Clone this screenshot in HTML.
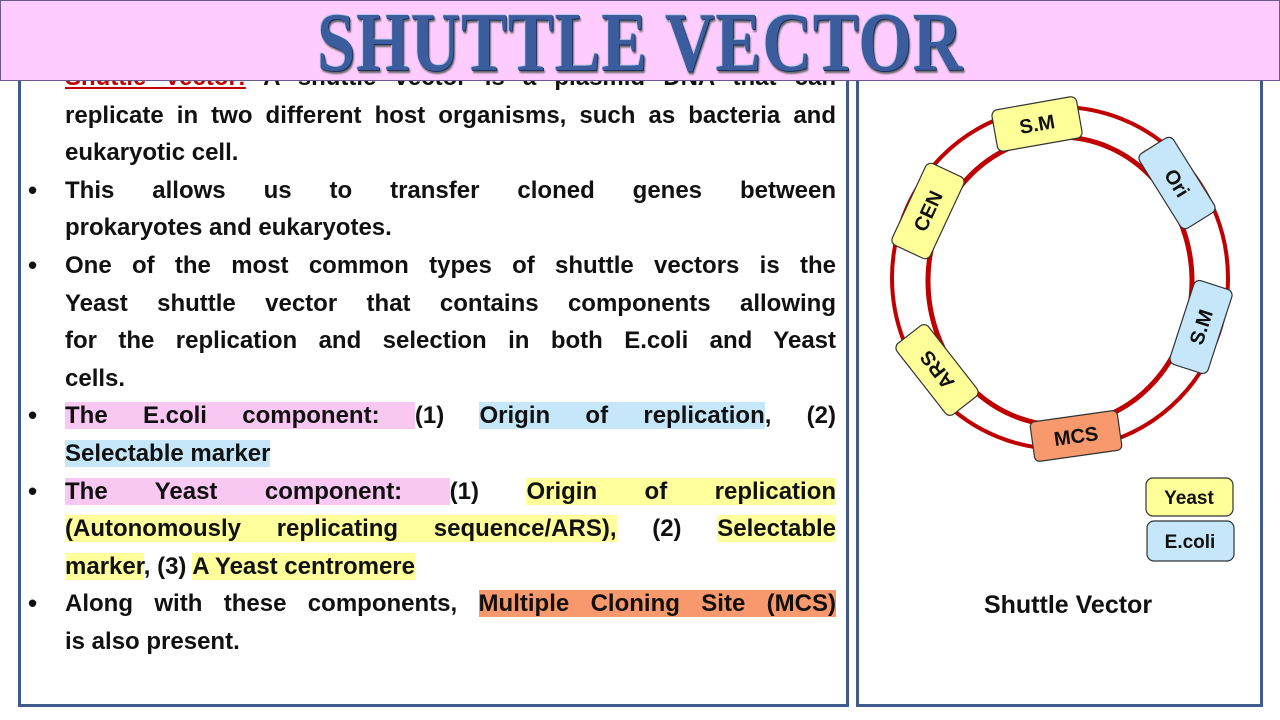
<!DOCTYPE html>
<html><head><meta charset="utf-8">
<style>
*{margin:0;padding:0;box-sizing:border-box}
body{width:1280px;height:720px;background:#fff;position:relative;overflow:hidden;font-family:"Liberation Sans",sans-serif}
.panel{position:absolute;border:3px solid #3f5b8e}
#title{position:absolute;left:0;top:0;width:1280px;height:81px;background:#ffccff;border:1px solid #6a5a8a;z-index:5;text-align:center}
#title span{display:inline-block;font-family:"Liberation Serif",serif;font-weight:bold;font-size:84px;line-height:84px;color:#3b5d9e;letter-spacing:1px;text-shadow:1px 1px 0 #1f3060,-1px -1px 0 #b8c8e8,2px 3px 2px #666;position:relative;top:0px;transform:scaleX(0.82)}
#text{position:absolute;left:65px;top:59px;width:771px;font-weight:bold;font-size:24px;color:#111}
.l{height:37.6px;line-height:37.6px;text-align:justify;text-align-last:justify;white-space:nowrap;overflow:visible}
.e{text-align-last:left}
.b{position:absolute;left:-37px;font-size:26px}
.pk{background:#f9c8f2}.bl{background:#c6e7fa}.ye{background:#ffff9c}.or{background:#f7996c}
.red{color:#c00000;text-decoration:underline}
</style></head><body>
<div class="panel" style="left:18px;top:70px;width:831px;height:637px"></div>
<div class="panel" style="left:856px;top:70px;width:407px;height:637px"></div>
<div id="title"><span>SHUTTLE VECTOR</span></div>
<div id="text">
<div class="l"><span class="red">Shuttle Vector:</span> A shuttle vector is a plasmid DNA that can</div>
<div class="l">replicate in two different host organisms, such as bacteria and</div>
<div class="l e">eukaryotic cell.</div>
<div class="l" style="position:relative"><span class="b" style="top:0">•</span>This allows us to transfer cloned genes between</div>
<div class="l e">prokaryotes and eukaryotes.</div>
<div class="l" style="position:relative"><span class="b">•</span>One of the most common types of shuttle vectors is the</div>
<div class="l">Yeast shuttle vector that contains components allowing</div>
<div class="l">for the replication and selection in both E.coli and Yeast</div>
<div class="l e">cells.</div>
<div class="l" style="position:relative"><span class="b">•</span><span class="pk">The E.coli component: </span> (1) <span class="bl">Origin of replication</span>, (2)</div>
<div class="l e"><span class="bl">Selectable marker</span></div>
<div class="l" style="position:relative"><span class="b">•</span><span class="pk">The Yeast component: </span> (1) <span class="ye">Origin of replication</span></div>
<div class="l"><span class="ye">(Autonomously replicating sequence/ARS),</span> (2) <span class="ye">Selectable</span></div>
<div class="l e"><span class="ye">marker</span>, (3) <span class="ye">A Yeast centromere</span></div>
<div class="l" style="position:relative"><span class="b">•</span>Along with these components, <span class="or">Multiple Cloning Site (MCS)</span></div>
<div class="l e">is also present.</div>
</div>
<svg width="1280" height="720" style="position:absolute;left:0;top:0;z-index:2" font-family="Liberation Sans,sans-serif" font-weight="bold">
<ellipse cx="1060" cy="278" rx="168" ry="171" fill="none" stroke="#c00000" stroke-width="4"/>
<ellipse cx="1060" cy="281" rx="132" ry="144" fill="none" stroke="#c00000" stroke-width="5"/>
<g stroke="#333" stroke-width="1.2">
<g transform="translate(1037,124) rotate(-10)"><rect x="-43" y="-21" width="86" height="42" rx="6" fill="#ffff99"/><text y="7" text-anchor="middle" font-size="20" stroke="none" fill="#111">S.M</text></g>
<g transform="translate(1177,183) rotate(58)"><rect x="-44" y="-20" width="88" height="40" rx="6" fill="#c6e7fa"/><text y="7" text-anchor="middle" font-size="20" stroke="none" fill="#111">Ori</text></g>
<g transform="translate(1201,327) rotate(-72)"><rect x="-44" y="-20" width="88" height="40" rx="6" fill="#c6e7fa"/><text y="7" text-anchor="middle" font-size="20" stroke="none" fill="#111">S.M</text></g>
<g transform="translate(928,211) rotate(-65)"><rect x="-45" y="-21" width="90" height="42" rx="6" fill="#ffff99"/><text y="7" text-anchor="middle" font-size="20" stroke="none" fill="#111">CEN</text></g>
<g transform="translate(937,370) rotate(-128)"><rect x="-45" y="-20" width="90" height="40" rx="6" fill="#ffff99"/><text y="7" text-anchor="middle" font-size="20" stroke="none" fill="#111">ARS</text></g>
<g transform="translate(1076,436) rotate(-8)"><rect x="-44" y="-20" width="88" height="40" rx="5" fill="#f7996c"/><text y="7" text-anchor="middle" font-size="20" stroke="none" fill="#111">MCS</text></g>
<rect x="1146" y="478" width="87" height="38" rx="7" fill="#ffff99"/>
<rect x="1147" y="521" width="87" height="40" rx="7" fill="#c6e7fa"/>
</g>
<text x="1189" y="504" text-anchor="middle" font-size="19" fill="#111">Yeast</text>
<text x="1190" y="548" text-anchor="middle" font-size="19" fill="#111">E.coli</text>
<text x="1068" y="613" text-anchor="middle" font-size="25" fill="#111">Shuttle Vector</text>
</svg>
</body></html>
